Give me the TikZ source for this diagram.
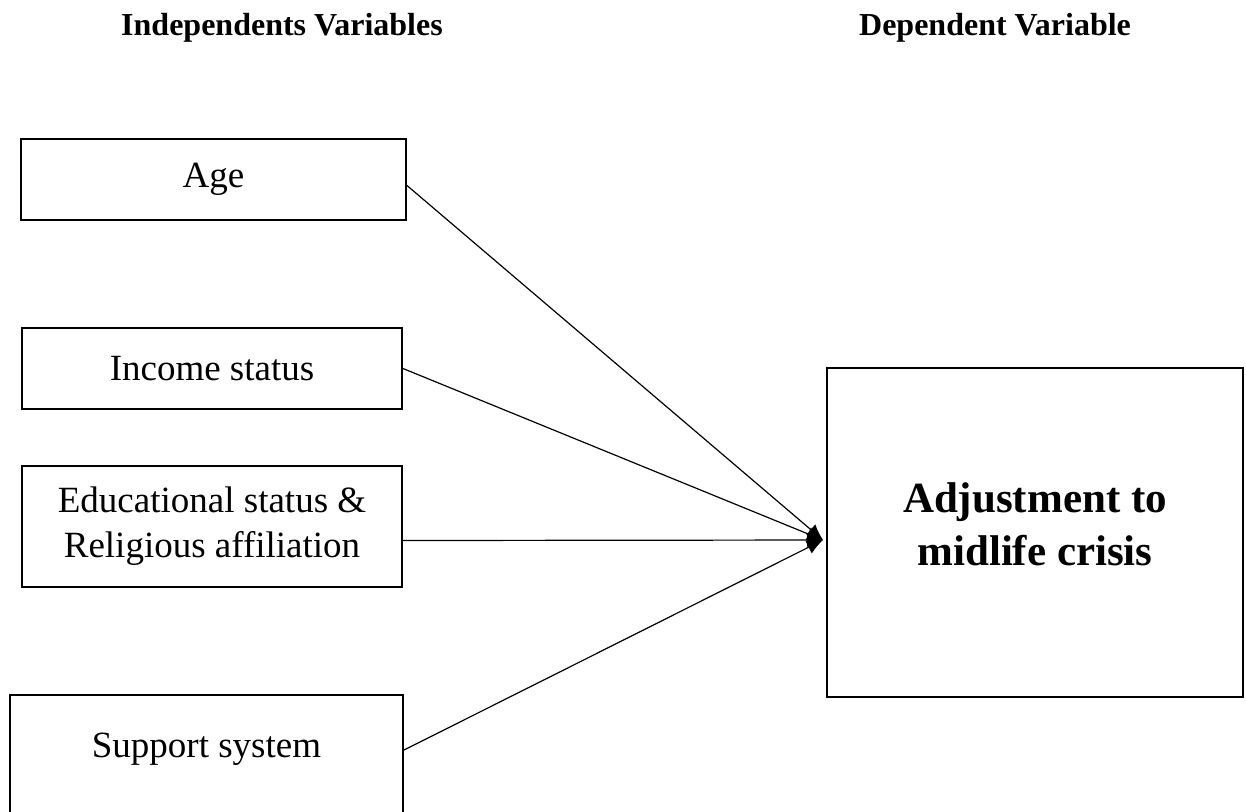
\documentclass[tikz,border=0pt]{standalone}
\usepackage{fontspec}
\setmainfont{Liberation Serif}
\usetikzlibrary{arrows.meta}
\tikzstyle{heading}=[font=\fontsize{16}{19}\selectfont\bfseries]
\tikzstyle{indep}=[rectangle, draw, line width=1pt, fill=white, align=center,
font=\fontsize{18.5}{22.5}\selectfont]
\tikzstyle{dep}=[rectangle, draw, line width=1.2pt, fill=white, align=center,
font=\fontsize{21.5}{26.5}\selectfont\bfseries]
\tikzstyle{link}=[line width=0.6pt, -{Latex[length=8pt,width=7pt]}]

\begin{document}
\begin{tikzpicture}[x=0.5pt,y=-0.5pt]
\useasboundingbox (0,0) rectangle (1246,811);
\node[heading](indhead) at (282,28){Independents Variables};
\node[heading](dephead) at (995,28){Dependent Variable};
\node[indep, minimum width=192.5pt, minimum height=40.5pt](age) at (213.5,179.5){Age};
\node[indep, minimum width=190pt, minimum height=40.5pt](income) at (212,368.5){Income status};
\node[indep, minimum width=190pt, minimum height=60.5pt](edu) at (212,526.5)
{Educational status \&\\Religious affiliation};
\node[indep, minimum width=196.5pt, minimum height=72pt, text depth=22pt](support) at (206.5,767){Support system};
\node[dep, minimum width=208pt, minimum height=164.5pt, text depth=8pt](adjust) at (1035,532.5)
{Adjustment to\\midlife crisis};
\coordinate (tip) at (823,540);
\draw [link]([yshift=-3pt]age.east) -- (tip);
\draw [link](income.east) -- (tip);
\draw [link]([yshift=-7pt]edu.east) -- (tip);
\draw [link]([yshift=8.5pt]support.east) -- (tip);
\end{tikzpicture}
\end{document}
